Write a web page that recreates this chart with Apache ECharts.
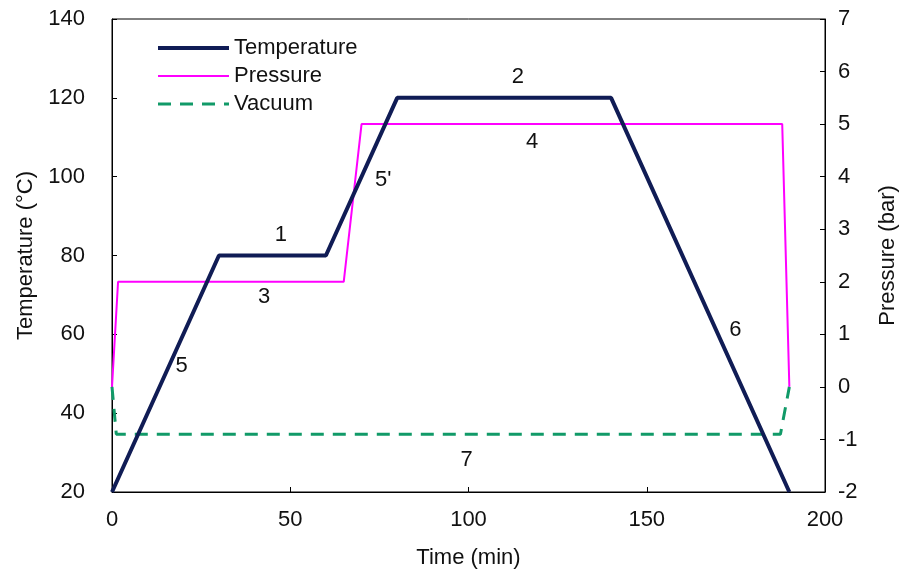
<!DOCTYPE html>
<html>
<head>
<meta charset="utf-8">
<script src="https://cdn.jsdelivr.net/npm/echarts@6/dist/echarts.min.js"></script>
<style>
  html, body { margin: 0; padding: 0; background: #fff; }
  #chart { width: 907px; height: 581px; }
</style>
</head>
<body>
<div id="chart"></div>
<script>
// Cure cycle: time (min) vs temperature (°C) and pressure / vacuum (bar)
const temperaturePts = [[0, 20], [30, 80], [60, 80], [80, 120], [140, 120], [190, 20]];
const pressurePts = [[0, 0], [1.7, 2], [65, 2], [70, 5], [188, 5], [190, 0]];
const vacuumPts = [[0, 0], [1.2, -0.9], [187.5, -0.9], [190, 0]];

// Stage numbers placed in (time, temperature) coordinates
const stageLabels = [
  [47.5, 85, '1'],
  [114, 125.3, '2'],
  [42.8, 69.3, '3'],
  [118, 108.7, '4'],
  [19.7, 51.8, '5'],
  [76.2, 99, "5'"],
  [175, 61, '6'],
  [99.6, 28, '7']
];

const xTicks = { min: 0, max: 200, interval: 50 };
const tempTicks = { min: 20, max: 140, interval: 20 };
const presTicks = { min: -2, max: 7, interval: 1 };

const FONT = 'Liberation Sans, Arial, sans-serif';
const TXT = '#111';
const C_TEMP = '#101c55';
const C_PRES = '#ff00ff';
const C_VAC = '#119a68';

const chart = echarts.init(document.getElementById('chart'), null, { renderer: 'canvas' });

const axisCommon = {
  axisLine: { show: true, onZero: false, lineStyle: { color: '#000', width: 1 } },
  axisTick: { show: true, inside: true, length: 5, lineStyle: { color: '#000' } },
  splitLine: { show: false },
  nameLocation: 'middle',
  nameTextStyle: { fontFamily: FONT, fontSize: 22, color: TXT },
};

chart.setOption({
  animation: false,
  backgroundColor: '#fff',
  grid: { left: 112, right: 77, top: 19, bottom: 89, show: true, borderColor: '#000', borderWidth: 1 },
  legend: {
    orient: 'vertical',
    left: 151,
    top: 32,
    itemWidth: 71,
    itemHeight: 12,
    itemGap: 6,
    itemStyle: { opacity: 0 },
    textStyle: { fontFamily: FONT, fontSize: 22, color: TXT },
    data: [
      { name: 'Temperature', lineStyle: { width: 4, color: C_TEMP } },
      { name: 'Pressure', lineStyle: { width: 2, color: C_PRES } },
      { name: 'Vacuum', lineStyle: { width: 3, color: C_VAC, type: [13, 9] } }
    ]
  },
  xAxis: Object.assign({}, axisCommon, {
    type: 'value',
    min: xTicks.min, max: xTicks.max, interval: xTicks.interval,
    name: 'Time (min)',
    nameGap: 55,
    axisLabel: { fontFamily: FONT, fontSize: 22, color: TXT, margin: 17 }
  }),
  yAxis: [
    Object.assign({}, axisCommon, {
      type: 'value',
      position: 'left',
      min: tempTicks.min, max: tempTicks.max, interval: tempTicks.interval,
      name: 'Temperature (°C)',
      nameGap: 74,
      axisLabel: { fontFamily: FONT, fontSize: 22, color: TXT, margin: 27 }
    }),
    Object.assign({}, axisCommon, {
      type: 'value',
      position: 'right',
      min: presTicks.min, max: presTicks.max, interval: presTicks.interval,
      name: 'Pressure (bar)',
      nameGap: 52,
      nameRotate: 90,
      axisLabel: { fontFamily: FONT, fontSize: 22, color: TXT, margin: 13 }
    })
  ],
  series: [
    {
      name: 'Pressure',
      type: 'line',
      yAxisIndex: 1,
      data: pressurePts,
      symbol: 'none',
      lineStyle: { color: C_PRES, width: 2 },
      itemStyle: { color: C_PRES }
    },
    {
      name: 'Vacuum',
      type: 'line',
      yAxisIndex: 1,
      data: vacuumPts,
      symbol: 'none',
      lineStyle: { color: C_VAC, width: 3, type: [13, 9] },
      itemStyle: { color: C_VAC }
    },
    {
      name: 'Temperature',
      type: 'line',
      yAxisIndex: 0,
      data: temperaturePts,
      symbol: 'none',
      lineStyle: { color: C_TEMP, width: 4 },
      itemStyle: { color: C_TEMP }
    },
    {
      name: 'stages',
      type: 'scatter',
      yAxisIndex: 0,
      data: stageLabels.map(d => ({ value: [d[0], d[1]], name: d[2] })),
      symbolSize: 1,
      itemStyle: { color: 'rgba(0,0,0,0)' },
      silent: true,
      label: {
        show: true,
        position: [0, 0],
        align: 'center',
        verticalAlign: 'middle',
        formatter: p => p.name,
        fontFamily: FONT,
        fontSize: 22,
        color: TXT,
        opacity: 1,
        textBorderWidth: 0
      },
      z: 5
    }
  ]
});
</script>
</body>
</html>
